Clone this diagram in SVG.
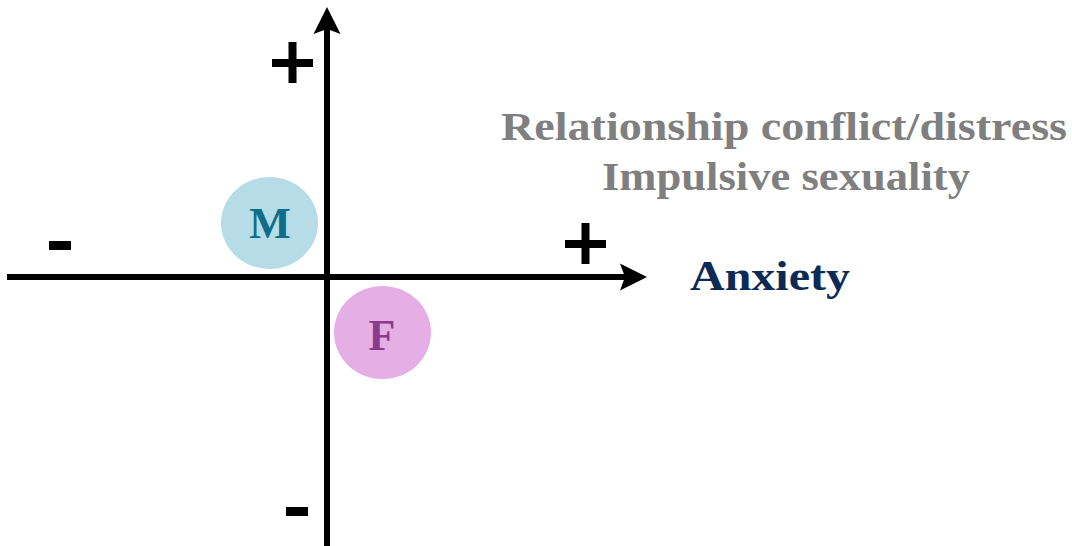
<svg xmlns="http://www.w3.org/2000/svg" width="1072" height="546" viewBox="0 0 1072 546">
<style>
.sign{fill:#000}
.lbl{font-family:"Liberation Serif",serif;font-weight:bold;text-anchor:middle}
.grey{fill:#7f7f7f;font-size:39px}
</style>
<defs>
<marker id="ah" markerWidth="30" markerHeight="30" refX="0" refY="0" viewBox="-8 -15 30 30" markerUnits="userSpaceOnUse" orient="auto">
<path d="M-7,-13.5 L20,0 L-7,13.5 L-2,0 Z" fill="#000"/>
</marker>
</defs>
<rect width="1072" height="546" fill="#fff"/>
<g id="connectors">
<line x1="7" y1="277" x2="627" y2="277" stroke="#000" stroke-width="6" marker-end="url(#ah)"/>
<line x1="327" y1="546" x2="327" y2="27" stroke="#000" stroke-width="6" marker-end="url(#ah)"/>
</g>
<g id="signs">
<rect class="sign" x="272" y="59" width="41" height="8"/>
<rect class="sign" x="288.5" y="42" width="8" height="41"/>
<rect class="sign" x="565" y="240" width="41" height="8"/>
<rect class="sign" x="581.5" y="223" width="8" height="41"/>
<rect class="sign" x="49" y="241" width="22" height="9"/>
<rect class="sign" x="286" y="507" width="22" height="9"/>
</g>
<g id="node-M">
<ellipse cx="269.5" cy="223" rx="48.5" ry="46" fill="#b6dce8"/>
<text class="lbl" x="270" y="238" font-size="44" fill="#0e6e8a">M</text>
</g>
<g id="node-F">
<ellipse cx="382.5" cy="332.5" rx="48.5" ry="46.5" fill="#e5aee5"/>
<text class="lbl" x="382" y="350" font-size="44" fill="#8a3a8a">F</text>
</g>
<g id="node-anxiety">
<text class="lbl" x="770" y="290" font-size="42" fill="#0b2a55" textLength="160" lengthAdjust="spacingAndGlyphs">Anxiety</text>
</g>
<g id="node-outcomes">
<text class="lbl grey" x="784" y="140" textLength="566" lengthAdjust="spacingAndGlyphs">Relationship conflict/distress</text>
<text class="lbl grey" x="786" y="190" textLength="368" lengthAdjust="spacingAndGlyphs">Impulsive sexuality</text>
</g>
</svg>
